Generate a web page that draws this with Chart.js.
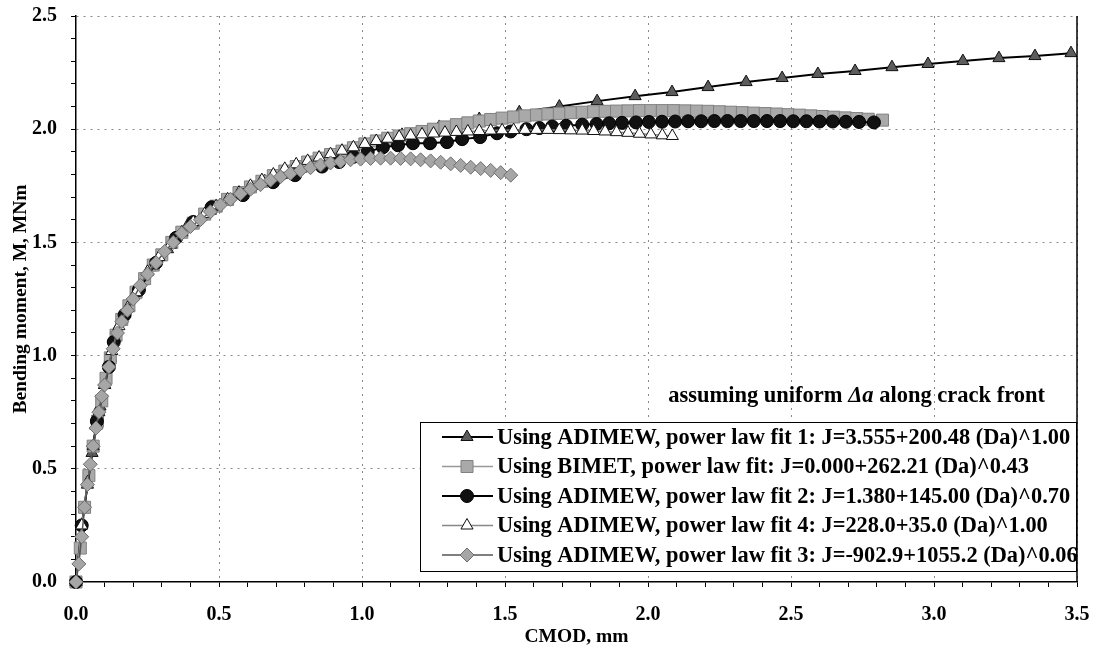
<!DOCTYPE html>
<html>
<head>
<meta charset="utf-8">
<script src="https://cdn.jsdelivr.net/npm/chart.js@4.4.1/dist/chart.umd.min.js"></script>
<style>
  html, body { margin: 0; padding: 0; background: #fff; }
  #wrap { width: 1099px; height: 649px; }
</style>
</head>
<body>
<div id="wrap"><canvas id="chart" width="1099" height="649"></canvas></div>
<script>
// valeurs (CMOD en mm, moment en MNm)
const fit1X = [0, 0.02, 0.04, 0.056, 0.07, 0.084, 0.1, 0.12, 0.143, 0.17, 0.21, 0.26, 0.32, 0.39, 0.47, 0.56, 0.66, 0.77, 0.89, 1.01, 1.14, 1.27, 1.41, 1.55, 1.69, 1.822, 1.955, 2.084, 2.21, 2.343, 2.469, 2.594, 2.724, 2.853, 2.979, 3.101, 3.227, 3.353, 3.479];
const fit1Y = [0, 0.25, 0.43, 0.57, 0.69, 0.775, 0.87, 0.99, 1.115, 1.185, 1.28, 1.39, 1.47, 1.575, 1.64, 1.71, 1.77, 1.83, 1.88, 1.93, 1.975, 2.01, 2.045, 2.075, 2.10, 2.124, 2.146, 2.164, 2.186, 2.208, 2.226, 2.244, 2.257, 2.274, 2.288, 2.301, 2.314, 2.323, 2.336];

const bimetX = [0, 0.015, 0.03, 0.045, 0.06, 0.075, 0.09, 0.105, 0.12, 0.14, 0.16, 0.185, 0.21, 0.24, 0.27, 0.3, 0.335, 0.37, 0.41, 0.45, 0.49, 0.53, 0.57, 0.61, 0.65, 0.69, 0.73, 0.77, 0.81, 0.85, 0.89, 0.93, 0.97, 1.01, 1.05, 1.09, 1.13, 1.17, 1.21, 1.25, 1.29, 1.33, 1.37, 1.41, 1.45, 1.49, 1.53, 1.57, 1.61, 1.65, 1.69, 1.73, 1.77, 1.81, 1.85, 1.89, 1.93, 1.97, 2.01, 2.05, 2.09, 2.13, 2.17, 2.21, 2.25, 2.29, 2.33, 2.37, 2.41, 2.45, 2.49, 2.53, 2.57, 2.61, 2.65, 2.69, 2.73, 2.77, 2.82];
const bimetY = [0, 0.15, 0.33, 0.47, 0.6, 0.71, 0.8, 0.9, 0.99, 1.09, 1.16, 1.22, 1.28, 1.34, 1.4, 1.445, 1.5, 1.545, 1.585, 1.625, 1.66, 1.69, 1.72, 1.745, 1.77, 1.795, 1.815, 1.835, 1.855, 1.872, 1.888, 1.903, 1.918, 1.935, 1.948, 1.96, 1.97, 1.98, 1.99, 2.0, 2.01, 2.02, 2.028, 2.036, 2.043, 2.049, 2.054, 2.059, 2.063, 2.067, 2.07, 2.073, 2.075, 2.077, 2.079, 2.08, 2.081, 2.082, 2.082, 2.082, 2.082, 2.081, 2.08, 2.079, 2.077, 2.075, 2.073, 2.071, 2.069, 2.067, 2.064, 2.062, 2.059, 2.056, 2.053, 2.05, 2.047, 2.044, 2.04];

const fit2X = [0, 0.02, 0.073, 0.115, 0.132, 0.17, 0.22, 0.28, 0.35, 0.41, 0.474, 0.584, 0.689, 0.766, 0.86, 0.92, 0.97, 1.02, 1.073, 1.126, 1.178, 1.238, 1.297, 1.35, 1.413, 1.472, 1.52, 1.575, 1.62, 1.665, 1.714, 1.77, 1.82, 1.864, 1.909, 1.958, 2.003, 2.049, 2.095, 2.14, 2.186, 2.232, 2.278, 2.324, 2.37, 2.416, 2.462, 2.508, 2.554, 2.6, 2.646, 2.692, 2.738, 2.79];
const fit2Y = [0, 0.25, 0.71, 0.95, 1.06, 1.18, 1.29, 1.41, 1.52, 1.59, 1.655, 1.709, 1.766, 1.797, 1.835, 1.855, 1.878, 1.9, 1.92, 1.929, 1.938, 1.938, 1.943, 1.956, 1.965, 1.982, 1.99, 2.0, 2.005, 2.012, 2.015, 2.02, 2.023, 2.026, 2.028, 2.03, 2.032, 2.033, 2.034, 2.035, 2.035, 2.036, 2.036, 2.036, 2.036, 2.036, 2.036, 2.035, 2.035, 2.034, 2.034, 2.033, 2.032, 2.03];

const fit4X = [0, 0.02, 0.04, 0.06, 0.08, 0.1, 0.125, 0.15, 0.18, 0.21, 0.25, 0.29, 0.33, 0.37, 0.41, 0.45, 0.49, 0.53, 0.57, 0.61, 0.65, 0.69, 0.73, 0.77, 0.81, 0.85, 0.89, 0.93, 0.97, 1.01, 1.05, 1.09, 1.13, 1.17, 1.21, 1.25, 1.29, 1.33, 1.37, 1.41, 1.45, 1.49, 1.53, 1.57, 1.61, 1.65, 1.69, 1.73, 1.77, 1.81, 1.85, 1.89, 1.93, 1.97, 2.01, 2.05, 2.085];
const fit4Y = [0, 0.25, 0.44, 0.6, 0.75, 0.87, 1.02, 1.13, 1.21, 1.28, 1.37, 1.435, 1.49, 1.545, 1.59, 1.625, 1.66, 1.69, 1.72, 1.75, 1.775, 1.8, 1.825, 1.845, 1.86, 1.875, 1.89, 1.905, 1.92, 1.935, 1.948, 1.958, 1.966, 1.972, 1.977, 1.981, 1.985, 1.988, 1.99, 1.992, 1.994, 1.995, 1.996, 1.997, 1.997, 1.997, 1.996, 1.995, 1.994, 1.992, 1.99, 1.987, 1.984, 1.98, 1.977, 1.973, 1.97];

const fit3X = [0, 0.01, 0.02, 0.03, 0.04, 0.05, 0.06, 0.07, 0.08, 0.09, 0.1, 0.115, 0.13, 0.145, 0.16, 0.18, 0.2, 0.225, 0.25, 0.28, 0.31, 0.34, 0.37, 0.4, 0.435, 0.47, 0.505, 0.54, 0.575, 0.61, 0.645, 0.68, 0.715, 0.75, 0.785, 0.82, 0.855, 0.89, 0.925, 0.96, 0.995, 1.03, 1.065, 1.1, 1.135, 1.17, 1.205, 1.24, 1.275, 1.31, 1.345, 1.38, 1.415, 1.45, 1.485, 1.52];
const fit3Y = [0, 0.08, 0.2, 0.33, 0.43, 0.52, 0.6, 0.68, 0.75, 0.82, 0.87, 0.95, 1.03, 1.1, 1.15, 1.2, 1.25, 1.31, 1.36, 1.41, 1.46, 1.5, 1.54, 1.57, 1.6, 1.635, 1.665, 1.69, 1.715, 1.735, 1.755, 1.775, 1.79, 1.805, 1.818, 1.83, 1.842, 1.851, 1.858, 1.865, 1.868, 1.871, 1.872, 1.872, 1.871, 1.869, 1.865, 1.86, 1.854, 1.847, 1.84, 1.832, 1.826, 1.818, 1.808, 1.797];

const seriesLabels = [
  'Using ADIMEW, power law fit 1: J=3.555+200.48 (Da)^1.00',
  'Using BIMET, power law fit: J=0.000+262.21 (Da)^0.43',
  'Using ADIMEW, power law fit 2: J=1.380+145.00 (Da)^0.70',
  'Using ADIMEW, power law fit 4: J=228.0+35.0 (Da)^1.00',
  'Using ADIMEW, power law fit 3: J=-902.9+1055.2 (Da)^0.06'
];
const xTitle = 'CMOD, mm';
const yTitle = 'Bending moment, M, MNm';

const serif = '"Liberation Serif", "Times New Roman", serif';
Chart.defaults.font.family = serif;
Chart.defaults.color = '#000';

function toPoints(xs, ys) {
  return xs.map((x, i) => ({ x: x, y: ys[i] }));
}

function isHalf(v) {
  return Math.abs(v * 2 - Math.round(v * 2)) < 1e-6;
}

const styles = [
  { pointStyle: 'triangle', radius: 7, bg: '#5c5c5c', border: '#111', line: '#000', lineWidth: 2, order: 5 },
  { pointStyle: 'rect', radius: 8.5, bg: '#a9a9a9', border: '#808080', line: '#999', lineWidth: 1.5, order: 4 },
  { pointStyle: 'circle', radius: 6.5, bg: '#111', border: '#000', line: '#000', lineWidth: 2, order: 3 },
  { pointStyle: 'triangle', radius: 7, bg: '#fff', border: '#111', line: '#888', lineWidth: 1.5, order: 2 },
  { pointStyle: 'rectRot', radius: 7, bg: '#a6a6a6', border: '#6e6e6e', line: '#555', lineWidth: 1.5, order: 1 }
];
const seriesData = [
  toPoints(fit1X, fit1Y),
  toPoints(bimetX, bimetY),
  toPoints(fit2X, fit2Y),
  toPoints(fit4X, fit4Y),
  toPoints(fit3X, fit3Y)
];

// legende encadree dans le coin bas droit + note
const boxLegend = {
  id: 'boxLegend',
  afterDraw(chart) {
    const ctx = chart.ctx;
    const area = chart.chartArea;
    ctx.save();
    // bord droit du graphe
    ctx.strokeStyle = '#000';
    ctx.lineWidth = 1.5;
    ctx.beginPath();
    ctx.moveTo(area.right, area.top);
    ctx.lineTo(area.right, area.bottom);
    ctx.stroke();

    const bx = 420, by = 422, bw = area.right - 420, bh = 150;
    ctx.fillStyle = '#fff';
    ctx.fillRect(bx, by, bw, bh);
    ctx.lineWidth = 1;
    ctx.strokeRect(bx + 0.5, by + 0.5, bw - 1, bh - 1);

    ctx.font = 'bold 22.4px ' + serif;
    ctx.textBaseline = 'middle';
    styles.forEach((s, i) => {
      const y = 437 + i * 29.5;
      ctx.strokeStyle = s.line;
      ctx.lineWidth = s.lineWidth;
      ctx.beginPath();
      ctx.moveTo(442, y);
      ctx.lineTo(493, y);
      ctx.stroke();
      ctx.fillStyle = s.bg;
      ctx.strokeStyle = s.border;
      ctx.lineWidth = 1;
      Chart.helpers.drawPoint(ctx, { pointStyle: s.pointStyle, radius: s.radius, rotation: 0, borderWidth: 1 }, 467, y);
      ctx.fillStyle = '#000';
      ctx.fillText(seriesLabels[i], 497, y + 1);
    });

    // note au-dessus de la legende
    const parts = [['bold ', 'assuming uniform '], ['bold italic ', '\u0394a'], ['bold ', ' along crack front']];
    let total = 0;
    parts.forEach(p => { ctx.font = p[0] + '22.5px ' + serif; total += ctx.measureText(p[1]).width; });
    let x = 1045 - total;
    ctx.fillStyle = '#000';
    ctx.textBaseline = 'alphabetic';
    parts.forEach(p => {
      ctx.font = p[0] + '22.5px ' + serif;
      ctx.fillText(p[1], x, 402);
      x += ctx.measureText(p[1]).width;
    });
    ctx.restore();
  }
};

new Chart(document.getElementById('chart'), {
  type: 'scatter',
  data: {
    datasets: seriesData.map((d, i) => ({
      label: seriesLabels[i],
      data: d,
      showLine: true,
      order: styles[i].order,
      borderColor: styles[i].line,
      borderWidth: styles[i].lineWidth,
      pointStyle: styles[i].pointStyle,
      pointRadius: styles[i].radius,
      pointBackgroundColor: styles[i].bg,
      pointBorderColor: styles[i].border,
      pointBorderWidth: 1,
      clip: false
    }))
  },
  options: {
    responsive: false,
    animation: false,
    layout: { padding: { top: 16, right: 22, left: 0, bottom: 0 } },
    plugins: {
      legend: { display: false },
      tooltip: { enabled: false }
    },
    scales: {
      x: {
        type: 'linear',
        min: 0,
        max: 3.5,
        afterFit: s => { s.height = 67; s.paddingLeft = 0; s.paddingRight = 0; },
        ticks: {
          stepSize: 0.1,
          maxTicksLimit: 100,
          autoSkip: false,
          maxRotation: 0,
          padding: 16,
          font: { size: 20, weight: 'bold' },
          callback: v => isHalf(v) ? v.toFixed(1) : ''
        },
        grid: {
          color: c => (c.tick && isHalf(c.tick.value) && c.tick.value > 0.01) ? '#8a8a8a' : 'rgba(0,0,0,0)',
          tickColor: '#000',
          tickLength: 5,
          lineWidth: 1
        },
        border: { color: '#000', width: 1.5, dash: [2, 5] },
        title: {
          display: true,
          text: xTitle,
          font: { size: 19.5, weight: 'bold' },
          padding: { top: 0, bottom: 0 }
        }
      },
      y: {
        type: 'linear',
        min: 0,
        max: 2.5,
        afterFit: s => { s.width = 76; s.paddingTop = 0; s.paddingBottom = 0; },
        ticks: {
          stepSize: 0.1,
          maxTicksLimit: 100,
          autoSkip: false,
          padding: 14,
          font: { size: 20, weight: 'bold' },
          callback: v => isHalf(v) ? v.toFixed(1) : ''
        },
        grid: {
          color: c => (c.tick && isHalf(c.tick.value) && c.tick.value > 0.01) ? '#8a8a8a' : 'rgba(0,0,0,0)',
          tickColor: '#000',
          tickLength: 5,
          lineWidth: 1
        },
        border: { color: '#000', width: 1.5, dash: [2, 5] },
        title: {
          display: true,
          text: yTitle,
          font: { size: 19.5, weight: 'bold' },
          padding: { top: 9, bottom: 0 }
        }
      }
    }
  },
  plugins: [boxLegend]
});
</script>
</body>
</html>
